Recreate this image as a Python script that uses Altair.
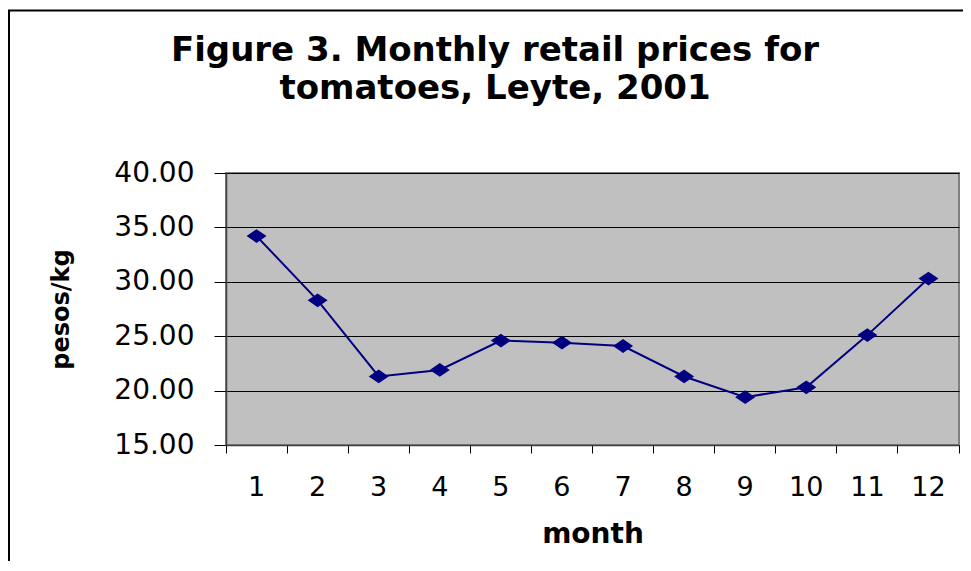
import altair as alt
import pandas as pd

months = [1, 2, 3, 4, 5, 6, 7, 8, 9, 10, 11, 12]
prices = [34.2, 28.3, 21.3, 21.9, 24.6, 24.4, 24.1, 21.3, 19.4, 20.3, 25.1, 30.3]
y_ticks = [15, 20, 25, 30, 35, 40]
title_lines = ["Figure 3. Monthly retail prices for", "tomatoes, Leyte, 2001"]

df = pd.DataFrame({"month": months, "price": prices})

navy = "#000080"
diamond = "M-1.45,0L0,-1L1.45,0L0,1Z"
FONT = "DejaVu Sans"

frame = alt.Chart(pd.DataFrame({"f": [0]})).mark_rect(
    fillOpacity=0, stroke="black", strokeWidth=2
).encode(
    x=alt.value(-217), x2=alt.value(780), y=alt.value(-162.5), y2=alt.value(430)
)

title = alt.Chart(pd.DataFrame({"t": ["\n".join(title_lines)]})).mark_text(
    font=FONT, fontSize=34, fontWeight="bold", color="black",
    align="center", baseline="top", lineBreak="\n", lineHeight=37.5,
).encode(text="t:N", x=alt.value(269), y=alt.value(-139))

line = alt.Chart(df).mark_line(
    color=navy, strokeWidth=2,
    point=alt.OverlayMarkDef(shape=diamond, size=190, filled=True, color=navy, opacity=1),
).encode(
    x=alt.X("month:O",
            scale=alt.Scale(type="band", paddingInner=0, paddingOuter=0),
            axis=alt.Axis(title="month", labelAngle=0, bandPosition=1, tickExtra=True,
                          tickSize=8, tickColor="black", domainColor="#404040", domainWidth=1.5,
                          labelFont=FONT, labelFontSize=27, labelColor="black", labelPadding=21,
                          titleFont=FONT, titleFontSize=28, titleFontWeight="bold",
                          titleColor="black", titlePadding=20, grid=False)),
    y=alt.Y("price:Q",
            scale=alt.Scale(domain=[15, 40], nice=False, zero=False),
            axis=alt.Axis(title="pesos/kg", values=y_ticks, format=".2f",
                          tickSize=12, tickColor="black", domainColor="#404040", domainWidth=1.5,
                          labelFont=FONT, labelFontSize=28, labelColor="black", labelPadding=20,
                          titleFont=FONT, titleFontSize=24, titleFontWeight="bold",
                          titleColor="black", titleAngle=-90, titleX=-165, titleY=136,
                          titleAlign="center", titleBaseline="middle",
                          grid=True, gridColor="black", gridWidth=1, gridOpacity=1)),
)

chart = alt.layer(frame, title, line).properties(
    width=733, height=272,
    padding={"left": 218, "top": 165, "right": 4, "bottom": 116},
    autosize=alt.AutoSizeParams(type="none"),
    background="white",
).configure_view(fill="#C0C0C0", stroke="#808080", strokeWidth=2)

chart.save("out.html", embed_options={"renderer": "svg", "actions": False})
